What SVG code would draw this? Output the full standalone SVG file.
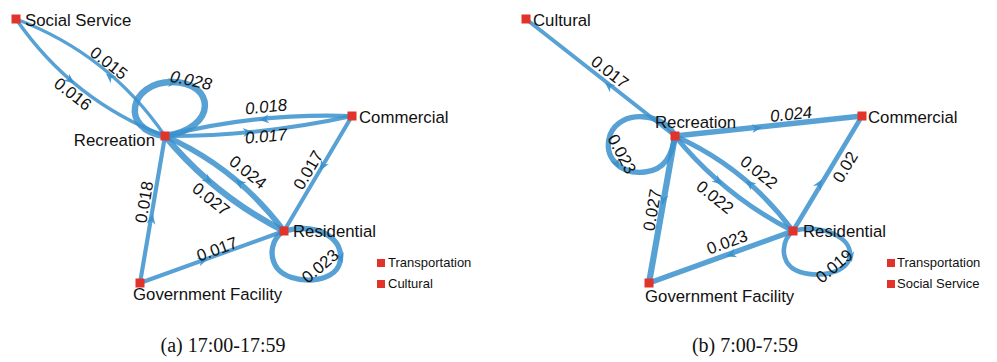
<svg xmlns="http://www.w3.org/2000/svg" xmlns:xlink="http://www.w3.org/1999/xlink" width="997" height="362" viewBox="0 0 997 362">
  <style>
    .e { fill: none; stroke: #3a90cc; stroke-opacity: 0.85; stroke-linecap: round; }
    .ah { fill: #3a90cc; fill-opacity: 0.9; }
    .lbl { font-family: "Liberation Sans", Arial, sans-serif; font-size: 16.8px; fill: #111; }
    .w { font-family: "Liberation Sans", Arial, sans-serif; font-size: 16.8px; fill: #111; text-anchor: middle; }
    .it { font-style: italic; }
    .leg { font-family: "Liberation Sans", Arial, sans-serif; font-size: 13px; fill: #111; }
    .cap { font-family: "Liberation Serif", "Times New Roman", serif; font-size: 20px; fill: #111; text-anchor: middle; }
    .n { fill: #e2332a; }
  </style>
  <defs>
    <path id="ah" class="ah" d="M4,0 L-6,-4.5 L-3,0 L-6,4.5 Z"/>
  </defs>
  <rect width="997" height="362" fill="#fff"/>

  <!-- ===== Panel (a) 17:00-17:59 ===== -->
  <g id="edges-a">
    <!-- Social Service <-> Recreation -->
    <path class="e" stroke-width="3.3" d="M16,19 Q109,54 165,136"/>
    <path class="e" stroke-width="3.5" d="M16,19 Q72.7,101 165,136"/>
    <!-- Recreation self-loop -->
    <path class="e" stroke-width="6.5" d="M165,136 C119,130 129,82 172,82 C215,82 219,128 165,136"/>
    <!-- Recreation <-> Commercial -->
    <path class="e" stroke-width="4.2" d="M165,136 Q256.6,112.5 352,116"/>
    <path class="e" stroke-width="4" d="M165,136 Q259,136.4 352,116"/>
    <!-- Commercial -> Residential -->
    <path class="e" stroke-width="4" d="M352,116 L284,231"/>
    <!-- Recreation <-> Residential -->
    <path class="e" stroke-width="5.6" d="M165,136 Q237,168 284,231"/>
    <path class="e" stroke-width="6.2" d="M165,136 Q214.5,196 284,231"/>
    <!-- Government Facility -> Recreation -->
    <path class="e" stroke-width="4.2" d="M140,283 L165,136"/>
    <!-- Government Facility -> Residential -->
    <path class="e" stroke-width="4" d="M140,283 L284,231"/>
    <!-- Residential self-loop -->
    <path class="e" stroke-width="5.3" d="M284,231 C320,222 345,240 340,262 C335,285 290,285 277,268 C268,255 272,238 284,231"/>

    <use xlink:href="#ah" transform="translate(109,76) rotate(220)"/>
    <use xlink:href="#ah" transform="translate(71,81) rotate(40)"/>
    <use xlink:href="#ah" transform="translate(174,82.5) rotate(0)"/>
    <use xlink:href="#ah" transform="translate(263,119.5) rotate(174)"/>
    <use xlink:href="#ah" transform="translate(249,132) rotate(-5)"/>
    <use xlink:href="#ah" transform="translate(322,167) rotate(120.4)"/>
    <use xlink:href="#ah" transform="translate(239,182) rotate(220.7)"/>
    <use xlink:href="#ah" transform="translate(209,181) rotate(40)"/>
    <use xlink:href="#ah" transform="translate(152,218) rotate(-80.3)"/>
    <use xlink:href="#ah" transform="translate(204,260) rotate(-19.9)"/>
    <use xlink:href="#ah" transform="translate(341,259) rotate(75)"/>

    <text class="w" transform="translate(109,63) rotate(38)" dy="0.35em">0.015</text>
    <text class="w" transform="translate(73,94) rotate(38)" dy="0.35em">0.016</text>
    <text class="w it" transform="translate(191,80) rotate(12)" dy="0.35em">0.028</text>
    <text class="w it" transform="translate(266,106.5) rotate(-6)" dy="0.35em">0.018</text>
    <text class="w it" transform="translate(266,136) rotate(-5)" dy="0.35em">0.017</text>
    <text class="w" transform="translate(308,170) rotate(-59.6)" dy="0.35em">0.017</text>
    <text class="w" transform="translate(248,172) rotate(38.6)" dy="0.35em">0.024</text>
    <text class="w" transform="translate(211,199) rotate(38.6)" dy="0.35em">0.027</text>
    <text class="w" transform="translate(144,202) rotate(-80.3)" dy="0.35em">0.018</text>
    <text class="w" transform="translate(217,249) rotate(-19.9)" dy="0.35em">0.017</text>
    <text class="w" transform="translate(320,266) rotate(-40)" dy="0.35em">0.023</text>
  </g>

  <g id="a-social-service">
    <rect class="n" x="11.5" y="14.5" width="9" height="9"/>
    <text class="lbl" x="25" y="26">Social Service</text>
  </g>
  <g id="a-recreation">
    <rect class="n" x="160.5" y="131.5" width="9" height="9"/>
    <text class="lbl" x="155" y="146" text-anchor="end">Recreation</text>
  </g>
  <g id="a-commercial">
    <rect class="n" x="347.5" y="111.5" width="9" height="9"/>
    <text class="lbl" x="359" y="123">Commercial</text>
  </g>
  <g id="a-residential">
    <rect class="n" x="279.5" y="226.5" width="9" height="9"/>
    <text class="lbl" x="293" y="237">Residential</text>
  </g>
  <g id="a-government">
    <rect class="n" x="135.5" y="278.5" width="9" height="9"/>
    <text class="lbl" x="133" y="300">Government Facility</text>
  </g>
  <g id="a-legend">
    <rect class="n" x="377" y="259" width="8" height="8"/>
    <text class="leg" x="388" y="267">Transportation</text>
    <rect class="n" x="377" y="280" width="8" height="8"/>
    <text class="leg" x="388" y="288">Cultural</text>
  </g>
  <text class="cap" x="223" y="352">(a) 17:00-17:59</text>

  <!-- ===== Panel (b) 7:00-7:59 ===== -->
  <g id="edges-b">
    <!-- Recreation -> Cultural -->
    <path class="e" stroke-width="4" d="M526,19 L675,136"/>
    <!-- Recreation -> Commercial -->
    <path class="e" stroke-width="5.6" d="M675,136 L862,116"/>
    <!-- Recreation self-loop -->
    <path class="e" stroke-width="5.3" d="M675,136 C665,113 620,108 610,135 C603,157 620,175 645,172 C665,170 672,155 675,136"/>
    <!-- Recreation -> Government Facility -->
    <path class="e" stroke-width="6.2" d="M675,136 L649,283"/>
    <!-- Recreation <-> Residential -->
    <path class="e" stroke-width="5" d="M675,136 Q746.5,168 793,231"/>
    <path class="e" stroke-width="5" d="M675,136 Q724,196 793,231"/>
    <!-- Residential -> Commercial -->
    <path class="e" stroke-width="4.6" d="M793,231 L862,116"/>
    <!-- Residential -> Government Facility -->
    <path class="e" stroke-width="5.3" d="M793,231 L649,283"/>
    <!-- Residential self-loop -->
    <path class="e" stroke-width="4.6" d="M793,231 C820,224 852,236 850,256 C848,275 810,280 792,268 C780,258 782,240 793,231"/>

    <use xlink:href="#ah" transform="translate(608,85) rotate(218.1)"/>
    <use xlink:href="#ah" transform="translate(758,128) rotate(-6.1)"/>
    <use xlink:href="#ah" transform="translate(617,165) rotate(70)"/>
    <use xlink:href="#ah" transform="translate(663,201) rotate(100)"/>
    <use xlink:href="#ah" transform="translate(749,183) rotate(220.7)"/>
    <use xlink:href="#ah" transform="translate(719,182) rotate(40)"/>
    <use xlink:href="#ah" transform="translate(820,183) rotate(-59)"/>
    <use xlink:href="#ah" transform="translate(730,255) rotate(160.1)"/>
    <use xlink:href="#ah" transform="translate(851,258) rotate(78)"/>

    <text class="w" transform="translate(610,72) rotate(38)" dy="0.35em">0.017</text>
    <text class="w it" transform="translate(791,114) rotate(-6)" dy="0.35em">0.024</text>
    <text class="w" transform="translate(622,154) rotate(62)" dy="0.35em">0.023</text>
    <text class="w" transform="translate(652,210) rotate(-80)" dy="0.35em">0.027</text>
    <text class="w" transform="translate(759,172) rotate(38.8)" dy="0.35em">0.022</text>
    <text class="w" transform="translate(715,197) rotate(38.8)" dy="0.35em">0.022</text>
    <text class="w" transform="translate(845,167) rotate(-59)" dy="0.35em">0.02</text>
    <text class="w" transform="translate(727,242) rotate(-19.9)" dy="0.35em">0.023</text>
    <text class="w" transform="translate(834,266) rotate(-40)" dy="0.35em">0.019</text>
  </g>

  <g id="b-cultural">
    <rect class="n" x="521.5" y="14.5" width="9" height="9"/>
    <text class="lbl" x="533" y="26">Cultural</text>
  </g>
  <g id="b-recreation">
    <rect class="n" x="670.5" y="131.5" width="9" height="9"/>
    <text class="lbl" x="655" y="128">Recreation</text>
  </g>
  <g id="b-commercial">
    <rect class="n" x="857.5" y="111.5" width="9" height="9"/>
    <text class="lbl" x="868" y="123">Commercial</text>
  </g>
  <g id="b-residential">
    <rect class="n" x="788.5" y="226.5" width="9" height="9"/>
    <text class="lbl" x="803" y="237">Residential</text>
  </g>
  <g id="b-government">
    <rect class="n" x="644.5" y="278.5" width="9" height="9"/>
    <text class="lbl" x="645" y="302">Government Facility</text>
  </g>
  <g id="b-legend">
    <rect class="n" x="887" y="259" width="8" height="8"/>
    <text class="leg" x="897" y="267">Transportation</text>
    <rect class="n" x="887" y="280" width="8" height="8"/>
    <text class="leg" x="897" y="288">Social Service</text>
  </g>
  <text class="cap" x="745" y="352">(b) 7:00-7:59</text>
</svg>
